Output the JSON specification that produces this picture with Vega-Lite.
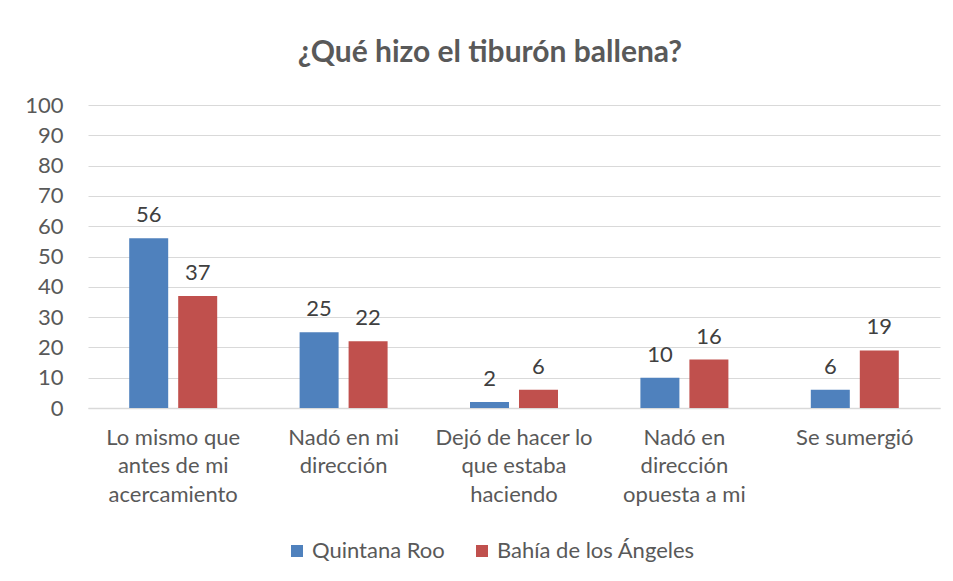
{
  "$schema": "https://vega.github.io/schema/vega-lite/v6.json",
  "autosize": {"type": "none"},
  "width": 852,
  "height": 303,
  "padding": {"left": 88, "top": 105, "right": 13, "bottom": 173},
  "background": "white",
  "title": {
    "text": "¿Qué hizo el tiburón ballena?",
    "fontSize": 30,
    "fontWeight": "bold",
    "font": "Lato",
    "color": "#595959",
    "anchor": "middle",
    "dx": -24,
    "offset": 26
  },
  "data": {
    "values": [
      {"categoria": "Lo mismo que|antes de mi|acercamiento", "lugar": "Quintana Roo", "valor": 56},
      {"categoria": "Lo mismo que|antes de mi|acercamiento", "lugar": "Bahía de los Ángeles", "valor": 37},
      {"categoria": "Nadó en mi|dirección", "lugar": "Quintana Roo", "valor": 25},
      {"categoria": "Nadó en mi|dirección", "lugar": "Bahía de los Ángeles", "valor": 22},
      {"categoria": "Dejó de hacer lo|que estaba|haciendo", "lugar": "Quintana Roo", "valor": 2},
      {"categoria": "Dejó de hacer lo|que estaba|haciendo", "lugar": "Bahía de los Ángeles", "valor": 6},
      {"categoria": "Nadó en|dirección|opuesta a mi", "lugar": "Quintana Roo", "valor": 10},
      {"categoria": "Nadó en|dirección|opuesta a mi", "lugar": "Bahía de los Ángeles", "valor": 16},
      {"categoria": "Se sumergió", "lugar": "Quintana Roo", "valor": 6},
      {"categoria": "Se sumergió", "lugar": "Bahía de los Ángeles", "valor": 19}
    ]
  },
  "encoding": {
    "x": {
      "field": "categoria",
      "type": "nominal",
      "sort": null,
      "scale": {"paddingInner": 0, "paddingOuter": 0},
      "axis": {
        "title": null,
        "labelAngle": 0,
        "labelExpr": "split(datum.value, '|')",
        "labelFontSize": 22,
        "labelFont": "Lato",
        "labelColor": "#595959",
        "labelLineHeight": 28.5,
        "labelPadding": 19,
        "labelLimit": 0,
        "ticks": false,
        "domainColor": "#d9d9d9",
        "domainWidth": 1.5,
        "labelBaseline": "top"
      }
    },
    "xOffset": {
      "field": "lugar",
      "type": "nominal",
      "sort": ["Quintana Roo", "Bahía de los Ángeles"],
      "scale": {"paddingInner": 0.204, "paddingOuter": 0.841}
    },
    "y": {
      "field": "valor",
      "type": "quantitative",
      "scale": {"domain": [0, 100]},
      "axis": {
        "title": null,
        "values": [0, 10, 20, 30, 40, 50, 60, 70, 80, 90, 100],
        "labelFontSize": 22,
        "labelFont": "Lato",
        "labelColor": "#595959",
        "labelPadding": 25,
        "ticks": false,
        "domain": false,
        "gridColor": "#d9d9d9",
        "gridWidth": 1.2
      }
    }
  },
  "layer": [
    {
      "mark": {"type": "bar"},
      "encoding": {
        "color": {
          "field": "lugar",
          "type": "nominal",
          "sort": ["Quintana Roo", "Bahía de los Ángeles"],
          "scale": {"domain": ["Quintana Roo", "Bahía de los Ángeles"], "range": ["#4F81BD", "#C0504D"]},
          "legend": {
            "title": null,
            "orient": "none",
            "direction": "horizontal",
            "legendX": 198,
            "legendY": 435,
            "symbolType": "square",
            "symbolSize": 144,
            "symbolStrokeWidth": 0,
            "labelFontSize": 22,
            "labelFont": "Lato",
            "labelColor": "#595959",
            "labelLimit": 0,
            "columnPadding": 26,
            "labelOffset": 4
          }
        }
      }
    },
    {
      "mark": {"type": "text", "baseline": "bottom", "dy": -11, "fontSize": 22, "font": "Lato", "color": "#404040"},
      "encoding": {
        "text": {"field": "valor", "type": "quantitative"}
      }
    }
  ],
  "config": {"view": {"stroke": null}}
}
